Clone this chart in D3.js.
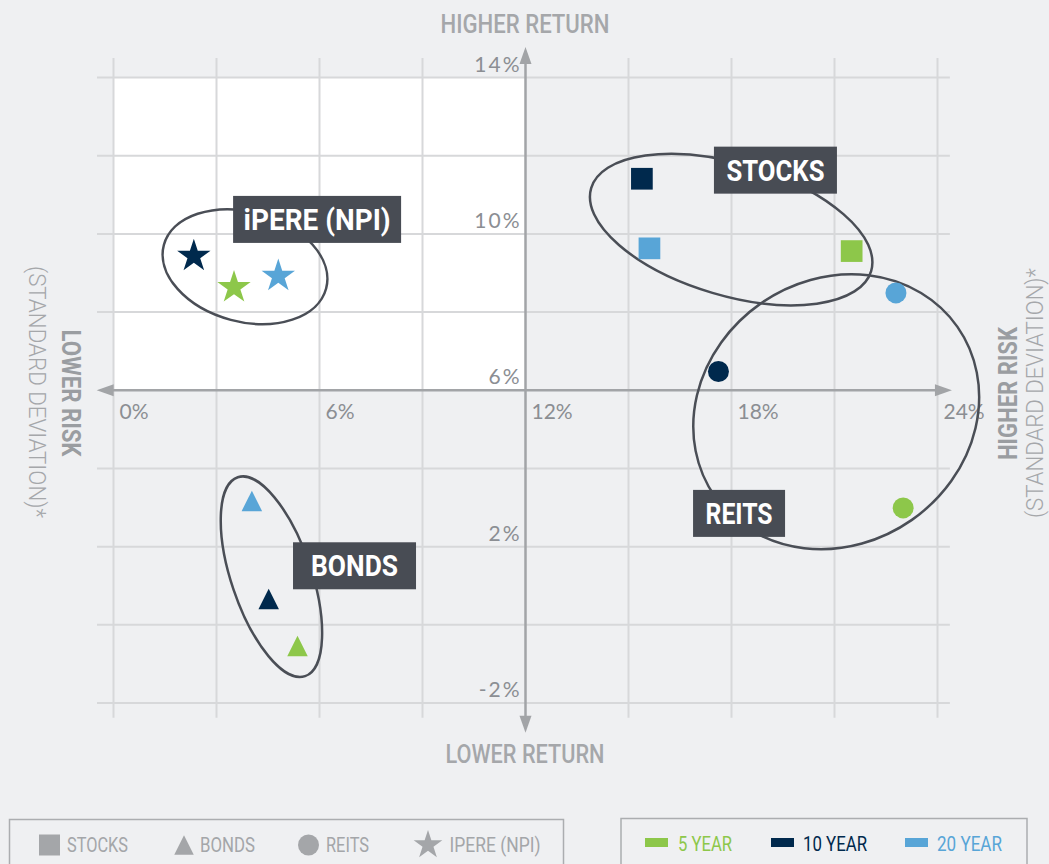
<!DOCTYPE html>
<html>
<head>
<meta charset="utf-8">
<script src="https://cdn.jsdelivr.net/npm/d3@7"></script>
<style>
  html, body { margin: 0; padding: 0; background: #eff0f2; }
  svg { display: block; }
</style>
</head>
<body>
<script>
// risk (std dev, %) and return (%) per asset class, in series order: 5, 10, 20 year
const seriesNames = ["5 YEAR", "10 YEAR", "20 YEAR"];
const seriesColors = ["#8DC74A", "#00294D", "#58A5D7"];

const stocksRisk = [21.50, 15.39, 15.61];
const stocksReturn = [9.56, 11.41, 9.63];
const bondsRisk = [5.36, 4.52, 4.03];
const bondsReturn = [-0.54, 0.66, 3.17];
const reitsRisk = [23.00, 17.62, 22.79];
const reitsReturn = [2.99, 6.48, 8.49];
const ipereRisk = [3.51, 2.34, 4.80];
const ipereReturn = [8.63, 9.43, 8.92];

const xTickLabels = [0, 6, 12, 18, 24];
const yTickLabels = [14, 10, 6, 2, -2];
const assetNames = ["STOCKS", "BONDS", "REITS", "IPERE (NPI)"];

const W = 1049, H = 864;
const svg = d3.select("body").append("svg")
  .attr("width", W).attr("height", H);

svg.append("rect").attr("width", W).attr("height", H).attr("fill", "#eff0f2");

const x = d3.scaleLinear().domain([0, 24]).range([113.5, 937.5]);
const y = d3.scaleLinear().domain([-2, 14]).range([703, 77.5]);

const gridC = "#d7d8da", axisC = "#a2a4a7", tickC = "#8b8e93";

// white upper-left quadrant
svg.append("rect")
  .attr("x", x(0)).attr("y", y(14))
  .attr("width", x(12) - x(0)).attr("height", y(6) - y(14))
  .attr("fill", "#fff");

// grid: every 3% of risk, every 2% of return
svg.append("g").selectAll("line")
  .data(d3.range(0, 25, 3).filter(d => d !== 12))
  .join("line")
    .attr("x1", d => x(d)).attr("x2", d => x(d))
    .attr("y1", y(14.5)).attr("y2", y(-2.38))
    .attr("stroke", gridC).attr("stroke-width", 2);
svg.append("g").selectAll("line")
  .data(d3.range(-2, 15, 2).filter(d => d !== 6))
  .join("line")
    .attr("y1", d => y(d)).attr("y2", d => y(d))
    .attr("x1", x(-0.48)).attr("x2", x(24.36))
    .attr("stroke", gridC).attr("stroke-width", 2);

// axes with arrowheads
function arrowHead(tx, ty, dx, dy) {
  const L = 17, w = 6;
  const bx = tx - dx * L, by = ty - dy * L;
  return `M${tx},${ty}L${bx - dy * w},${by + dx * w}L${bx + dy * w},${by - dx * w}Z`;
}
const ax = svg.append("g");
ax.append("line")
  .attr("x1", x(-0.49) + 10).attr("x2", x(24.42) - 10)
  .attr("y1", y(6)).attr("y2", y(6))
  .attr("stroke", axisC).attr("stroke-width", 2.5);
ax.append("line")
  .attr("x1", x(12)).attr("x2", x(12))
  .attr("y1", y(14.78) + 10).attr("y2", y(-2.76) - 10)
  .attr("stroke", axisC).attr("stroke-width", 2.5);
ax.append("path").attr("d", arrowHead(x(-0.49), y(6), -1, 0)).attr("fill", axisC);
ax.append("path").attr("d", arrowHead(x(24.42), y(6), 1, 0)).attr("fill", axisC);
ax.append("path").attr("d", arrowHead(x(12), y(14.78), 0, -1)).attr("fill", axisC);
ax.append("path").attr("d", arrowHead(x(12), y(-2.76), 0, 1)).attr("fill", axisC);

// tick labels
svg.append("g").selectAll("text")
  .data(xTickLabels)
  .join("text")
    .attr("x", d => x(d) + 6).attr("y", y(6) + 29)
    .attr("font-family", "Lato, sans-serif").attr("font-size", 21)
    .attr("fill", tickC)
    .text(d => d + "%");
svg.append("g").selectAll("text")
  .data(yTickLabels)
  .join("text")
    .attr("x", x(12) - 4).attr("y", d => y(d) - 6)
    .attr("text-anchor", "end")
    .attr("font-family", "Lato, sans-serif").attr("font-size", 21)
    .attr("letter-spacing", 2)
    .attr("fill", tickC)
    .text(d => d + "%");

// group ellipses (centre in data units, radii in px)
const groups = [
  { cx: 3.83, cy: 9.16, rx: 84, ry: 55, a: 15 },
  { cx: 17.99, cy: 10.11, rx: 146, ry: 66, a: 16.5 },
  { cx: 21.05, cy: 5.45, rx: 148, ry: 132, a: -35 },
  { cx: 4.6, cy: 1.23, rx: 40, ry: 105, a: -18.7 }
];
svg.append("g").selectAll("ellipse")
  .data(groups)
  .join("ellipse")
    .attr("transform", d => `translate(${x(d.cx)},${y(d.cy)}) rotate(${d.a})`)
    .attr("rx", d => d.rx).attr("ry", d => d.ry)
    .attr("fill", "none").attr("stroke", "#4a4e56").attr("stroke-width", 2.5);

// markers
const triangle = {
  draw(ctx, size) {
    const s = Math.sqrt(size);
    ctx.moveTo(0, -s / 2); ctx.lineTo(s / 2, s / 2); ctx.lineTo(-s / 2, s / 2); ctx.closePath();
  }
};
const assets = [
  { risk: stocksRisk, ret: stocksReturn, type: d3.symbolSquare, size: 471 },
  { risk: bondsRisk, ret: bondsReturn, type: triangle, size: 420 },
  { risk: reitsRisk, ret: reitsReturn, type: d3.symbolCircle, size: 346 },
  { risk: ipereRisk, ret: ipereReturn, type: d3.symbolStar, size: 345 }
];
const pts = assets.flatMap(a => a.risk.map((r, i) => ({ r, v: a.ret[i], i, type: a.type, size: a.size })));
svg.append("g").selectAll("path")
  .data(pts)
  .join("path")
    .attr("transform", d => `translate(${x(d.r)},${y(d.v)})`)
    .attr("d", d => d3.symbol(d.type, d.size)())
    .attr("fill", d => seriesColors[d.i]);

// label boxes
const labels = [
  { t: "iPERE (NPI)", cx: 5.93, cy: 10.37, w: 168, tl: 147 },
  { t: "STOCKS", cx: 19.28, cy: 11.63, w: 123, tl: 98 },
  { t: "REITS", cx: 18.22, cy: 2.85, w: 92, tl: 67 },
  { t: "BONDS", cx: 7.02, cy: 1.51, w: 123, tl: 87 }
];
const lg = svg.append("g").selectAll("g")
  .data(labels)
  .join("g")
    .attr("transform", d => `translate(${x(d.cx)},${y(d.cy)})`);
lg.append("rect")
  .attr("x", d => -d.w / 2).attr("y", -23.5)
  .attr("width", d => d.w).attr("height", 47)
  .attr("fill", "#484c54");
lg.append("text")
  .attr("text-anchor", "middle").attr("y", 10.5)
  .attr("font-family", "Roboto, sans-serif").attr("font-weight", 700).attr("font-size", 29)
  .attr("textLength", d => d.tl).attr("lengthAdjust", "spacingAndGlyphs")
  .attr("fill", "#fff")
  .text(d => d.t);

// axis titles
function title(tx, ty, rot, str, size, weight, len, color) {
  svg.append("text")
    .attr("transform", `translate(${tx},${ty}) rotate(${rot})`)
    .attr("text-anchor", "middle")
    .attr("font-family", "Roboto, sans-serif").attr("font-size", size).attr("font-weight", weight)
    .attr("textLength", len).attr("lengthAdjust", "spacingAndGlyphs")
    .attr("fill", color)
    .text(str);
}
title(525, 33, 0, "HIGHER RETURN", 25, 500, 169, "#a5a7aa");
title(525, 763, 0, "LOWER RETURN", 25, 500, 159, "#a5a7aa");
title(62, 393, 90, "LOWER RISK", 26, 700, 127, "#9a9da1");
title(29, 392, 90, "(STANDARD DEVIATION)*", 24, 300, 252, "#a5a7aa");
title(1017, 393.5, -90, "HIGHER RISK", 26, 700, 133, "#9a9da1");
title(1043, 393, -90, "(STANDARD DEVIATION)*", 23, 300, 250, "#a5a7aa");

// legends
const legC = "#a4a6a9";
svg.append("rect").attr("x", 9.5).attr("y", 819.5).attr("width", 554).attr("height", 60)
  .attr("fill", "none").attr("stroke", "#abadb0").attr("stroke-width", 1.5);
svg.append("rect").attr("x", 621).attr("y", 818.5).attr("width", 406).attr("height", 60)
  .attr("fill", "none").attr("stroke", "#abadb0").attr("stroke-width", 1.5);

const shapeLegend = [
  { sx: 49.5, tx: 67, tl: 61, type: d3.symbolSquare, size: 441 },
  { sx: 184, tx: 200, tl: 55, type: triangle, size: 380 },
  { sx: 308.5, tx: 326, tl: 43, type: d3.symbolCircle, size: 346 },
  { sx: 428, tx: 449.5, tl: 91, type: d3.symbolStar, size: 255 }
];
const sl = svg.append("g").selectAll("g")
  .data(shapeLegend)
  .join("g");
sl.append("path")
  .attr("transform", d => `translate(${d.sx},${845})`)
  .attr("d", d => d3.symbol(d.type, d.size)())
  .attr("fill", legC);
sl.append("text")
  .attr("x", d => d.tx).attr("y", 852)
  .attr("font-family", "Roboto, sans-serif").attr("font-size", 20)
  .attr("textLength", d => d.tl).attr("lengthAdjust", "spacingAndGlyphs")
  .attr("fill", legC)
  .text((d, i) => assetNames[i]);

const seriesLegend = [
  { bx: 645, tx: 678, tl: 54 },
  { bx: 771, tx: 803, tl: 64 },
  { bx: 905, tx: 937, tl: 65 }
];
const sg = svg.append("g").selectAll("g")
  .data(seriesLegend)
  .join("g");
sg.append("rect")
  .attr("x", d => d.bx).attr("y", 838).attr("width", 23).attr("height", 9)
  .attr("fill", (d, i) => seriesColors[i]);
sg.append("text")
  .attr("x", d => d.tx).attr("y", 851)
  .attr("font-family", "Roboto, sans-serif").attr("font-size", 20)
  .attr("textLength", d => d.tl).attr("lengthAdjust", "spacingAndGlyphs")
  .attr("fill", (d, i) => seriesColors[i])
  .text((d, i) => seriesNames[i]);
</script>
</body>
</html>
